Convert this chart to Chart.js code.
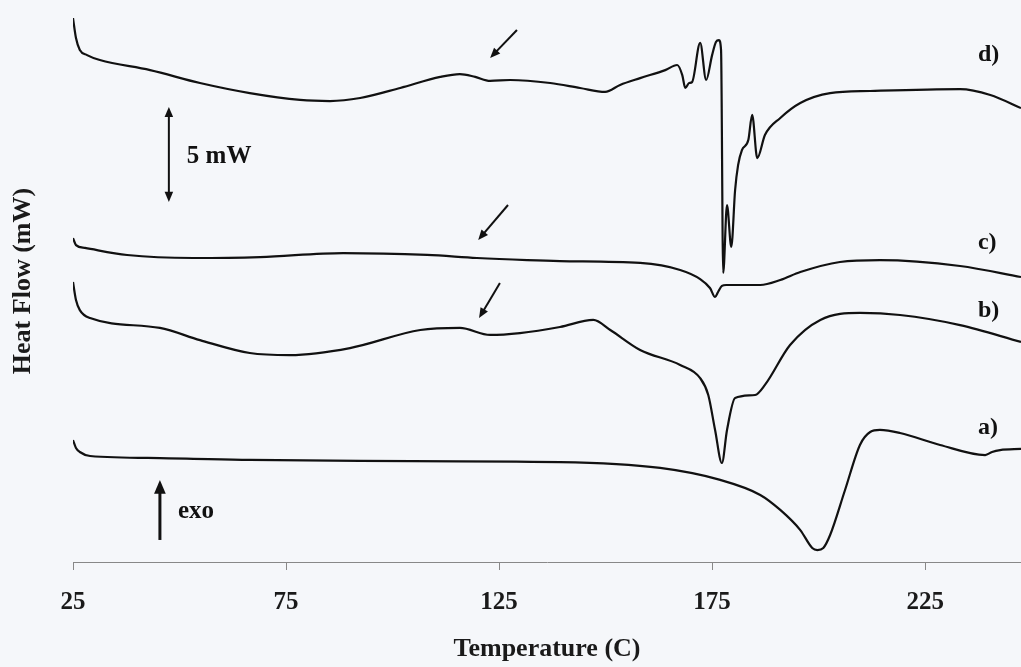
<!DOCTYPE html>
<html>
<head>
<meta charset="utf-8">
<script src="https://cdn.jsdelivr.net/npm/chart.js@4"></script>
<style>
html,body{margin:0;padding:0;background:#f5f7fa;}
#wrap{width:1021px;height:667px;}
</style>
</head>
<body>
<div id="wrap"><canvas id="dscChart" width="1021" height="667"></canvas></div>
<script>

// temperature (C) and heat flow (mW, curves offset)
let tempA = [25,25.7,26.6,29.0,45.4,66.5,92.4,139.3,162.8,176.9,186.3,191.0,195.7,198.5,199.7,201.1,202.7,206.2,209.7,212.1,214.4,219.1,228.5,239.1,240.7,242.6,247.5];
let flowA = [6.42,6.0,5.79,5.58,5.47,5.37,5.32,5.26,4.95,4.32,3.53,2.74,1.68,0.74,0.63,0.74,1.42,3.79,6.16,6.84,6.95,6.79,6.16,5.63,5.79,5.89,5.95];

let tempB = [25,25.7,26.6,29.0,45.4,54.8,66.5,75.9,90.0,106.5,115.8,122.9,129.9,139.3,147.1,151.1,158.1,167.5,172.2,174.1,175.7,177.3,178.5,180.4,185.1,187.4,193.3,200.4,209.7,219.1,233.2,247.5];
let flowB = [14.74,13.79,13.26,12.84,12.32,11.68,11.0,10.89,11.26,12.21,12.32,11.95,12.05,12.37,12.74,12.21,11.16,10.37,9.68,8.79,6.95,5.21,6.95,8.63,8.79,9.32,11.42,12.74,13.11,13.0,12.47,11.58];

let tempC = [25,25.7,27.8,37.7,53.2,68.9,88.4,108.1,119.8,131.6,139.3,158.1,167.5,172.2,174.5,175.7,176.4,177.3,178.3,186.3,191.0,195.7,205.0,214.4,233.2,247.5];
let flowC = [17.05,16.68,16.53,16.16,16.0,16.05,16.26,16.16,16.0,15.89,15.84,15.74,15.37,14.89,14.42,13.95,14.21,14.53,14.58,14.58,14.84,15.26,15.79,15.89,15.58,15.0];

let tempD = [25,25.7,26.6,28.3,31.3,43.1,54.8,66.5,78.3,85.3,92.4,101.8,111.2,115.8,119.4,122.9,127.6,137.0,144.0,149.9,153.4,158.1,164.0,166.8,168.0,168.7,169.6,170.3,172.2,173.6,175.0,175.9,176.6,177.1,177.6,178.5,179.5,180.4,181.1,182.0,183.5,184.4,185.6,187.4,191.0,195.7,202.7,212.1,233.2,240.3,247.5];
let flowD = [28.63,27.58,26.95,26.68,26.42,25.89,25.21,24.68,24.32,24.26,24.42,24.95,25.53,25.68,25.53,25.32,25.37,25.21,24.95,24.74,25.11,25.47,25.89,26.16,25.63,24.95,25.21,25.26,27.32,25.37,26.68,27.37,27.47,26.95,15.21,18.79,16.58,19.58,20.89,21.68,22.21,23.53,21.26,22.47,23.37,24.16,24.68,24.79,24.89,24.58,23.89];

let xTicks = [25,75,125,175,225];

// curve labels and arrows, in data units
let curveLabels = ["a)","b)","c)","d)"];
let labelTemp = [237.4,237.4,237.4,237.4];
let labelFlow = [7.05,13.21,16.79,26.68];

let arrowFrom = [[129.2,28.0],[127.1,18.79],[125.2,14.68]];
let arrowTo = [[122.9,26.53],[120.1,16.95],[120.3,12.84]];

let scaleBar = [47.5,23.95,18.95];   // temp, top, bottom (5 mW)
let exoArrow = [45.4,1.16,4.32];      // temp, tail, head

function toPoints(xs,ys){
let pts = [];
for(let i=0;i<xs.length;i++){
pts.push({x:xs[i],y:ys[i]});
}
return pts;
}

function makeSet(xs,ys){
return {
data:toPoints(xs,ys),
borderColor:"#111",
borderWidth:2.2,
pointRadius:0,
fill:false,
cubicInterpolationMode:"monotone"
};
}

const serif = "'Liberation Serif','Times New Roman',serif";

function arrowHead(ctx,x1,y1,x2,y2,size){
let ang = Math.atan2(y2-y1,x2-x1);
ctx.beginPath();
ctx.moveTo(x2,y2);
ctx.lineTo(x2-size*Math.cos(ang-0.4),y2-size*Math.sin(ang-0.4));
ctx.lineTo(x2-size*Math.cos(ang+0.4),y2-size*Math.sin(ang+0.4));
ctx.closePath();
ctx.fill();
}

function drawArrow(ctx,x1,y1,x2,y2,size){
let ang = Math.atan2(y2-y1,x2-x1);
ctx.beginPath();
ctx.moveTo(x1,y1);
ctx.lineTo(x2-size*0.7*Math.cos(ang),y2-size*0.7*Math.sin(ang));
ctx.stroke();
arrowHead(ctx,x1,y1,x2,y2,size);
}

const background = {
id:"background",
beforeDraw(chart){
let ctx = chart.ctx;
ctx.save();
ctx.fillStyle = "#f5f7fa";
ctx.fillRect(0,0,chart.width,chart.height);
ctx.restore();
}
};

const notes = {
id:"notes",
afterDatasetsDraw(chart){
let ctx = chart.ctx;
let xs = chart.scales.x;
let ys = chart.scales.y;
ctx.save();
ctx.fillStyle = "#111";
ctx.strokeStyle = "#111";
ctx.lineWidth = 2;

// a) b) c) d)
ctx.font = "bold 24px " + serif;
ctx.textBaseline = "middle";
ctx.textAlign = "left";
curveLabels.forEach((t,i)=>{
ctx.fillText(t,xs.getPixelForValue(labelTemp[i]),ys.getPixelForValue(labelFlow[i]));
});

// small arrows pointing at the curves
for(let i=0;i<arrowFrom.length;i++){
drawArrow(ctx,
xs.getPixelForValue(arrowFrom[i][0]),ys.getPixelForValue(arrowFrom[i][1]),
xs.getPixelForValue(arrowTo[i][0]),ys.getPixelForValue(arrowTo[i][1]),11);
}

// 5 mW scale bar
let bx = xs.getPixelForValue(scaleBar[0]);
let top = ys.getPixelForValue(scaleBar[1]);
let bot = ys.getPixelForValue(scaleBar[2]);
ctx.beginPath();
ctx.moveTo(bx,top+6);
ctx.lineTo(bx,bot-6);
ctx.stroke();
arrowHead(ctx,bx,bot,bx,top,11);
arrowHead(ctx,bx,top,bx,bot,11);
ctx.font = "bold 25px " + serif;
ctx.fillText("5 mW",bx+18,(top+bot)/2+2);

// exo arrow
let ex = xs.getPixelForValue(exoArrow[0]);
let eTail = ys.getPixelForValue(exoArrow[1]);
let eHead = ys.getPixelForValue(exoArrow[2]);
ctx.lineWidth = 3;
drawArrow(ctx,ex,eTail,ex,eHead,15);
ctx.fillText("exo",ex+18,(eTail+eHead)/2+2);

ctx.restore();
}
};

new Chart(document.getElementById("dscChart"),{
type:"line",
data:{
datasets:[
makeSet(tempA,flowA),
makeSet(tempB,flowB),
makeSet(tempC,flowC),
makeSet(tempD,flowD)
]
},
options:{
responsive:false,
animation:false,
events:[],
layout:{padding:0},
plugins:{
legend:{display:false},
tooltip:{enabled:false}
},
scales:{
x:{
type:"linear",
min:25,
max:247.5,
afterBuildTicks(scale){
scale.ticks = xTicks.map(v=>({value:v}));
},
afterFit(scale){
scale.height = 105;
},
grid:{
display:true,
drawOnChartArea:false,
drawTicks:true,
tickLength:8,
color:"#888"
},
border:{display:true,color:"#888",width:1},
ticks:{
color:"#1a1a1a",
padding:18,
maxRotation:0,
autoSkip:false,
font:{family:serif,size:25,weight:"bold"}
},
title:{
display:true,
text:"Temperature (C)",
color:"#1a1a1a",
padding:{top:0,bottom:2},
font:{family:serif,size:26,weight:"bold"}
}
},
y:{
type:"linear",
min:0,
max:29.58,
afterFit(scale){
scale.width = 73;
},
grid:{display:false},
border:{display:false},
ticks:{display:false},
title:{
display:true,
text:"Heat Flow (mW)",
color:"#1a1a1a",
padding:{top:8,bottom:0},
font:{family:serif,size:26,weight:"bold"}
}
}
}
},
plugins:[background,notes]
});

</script>
</body>
</html>
